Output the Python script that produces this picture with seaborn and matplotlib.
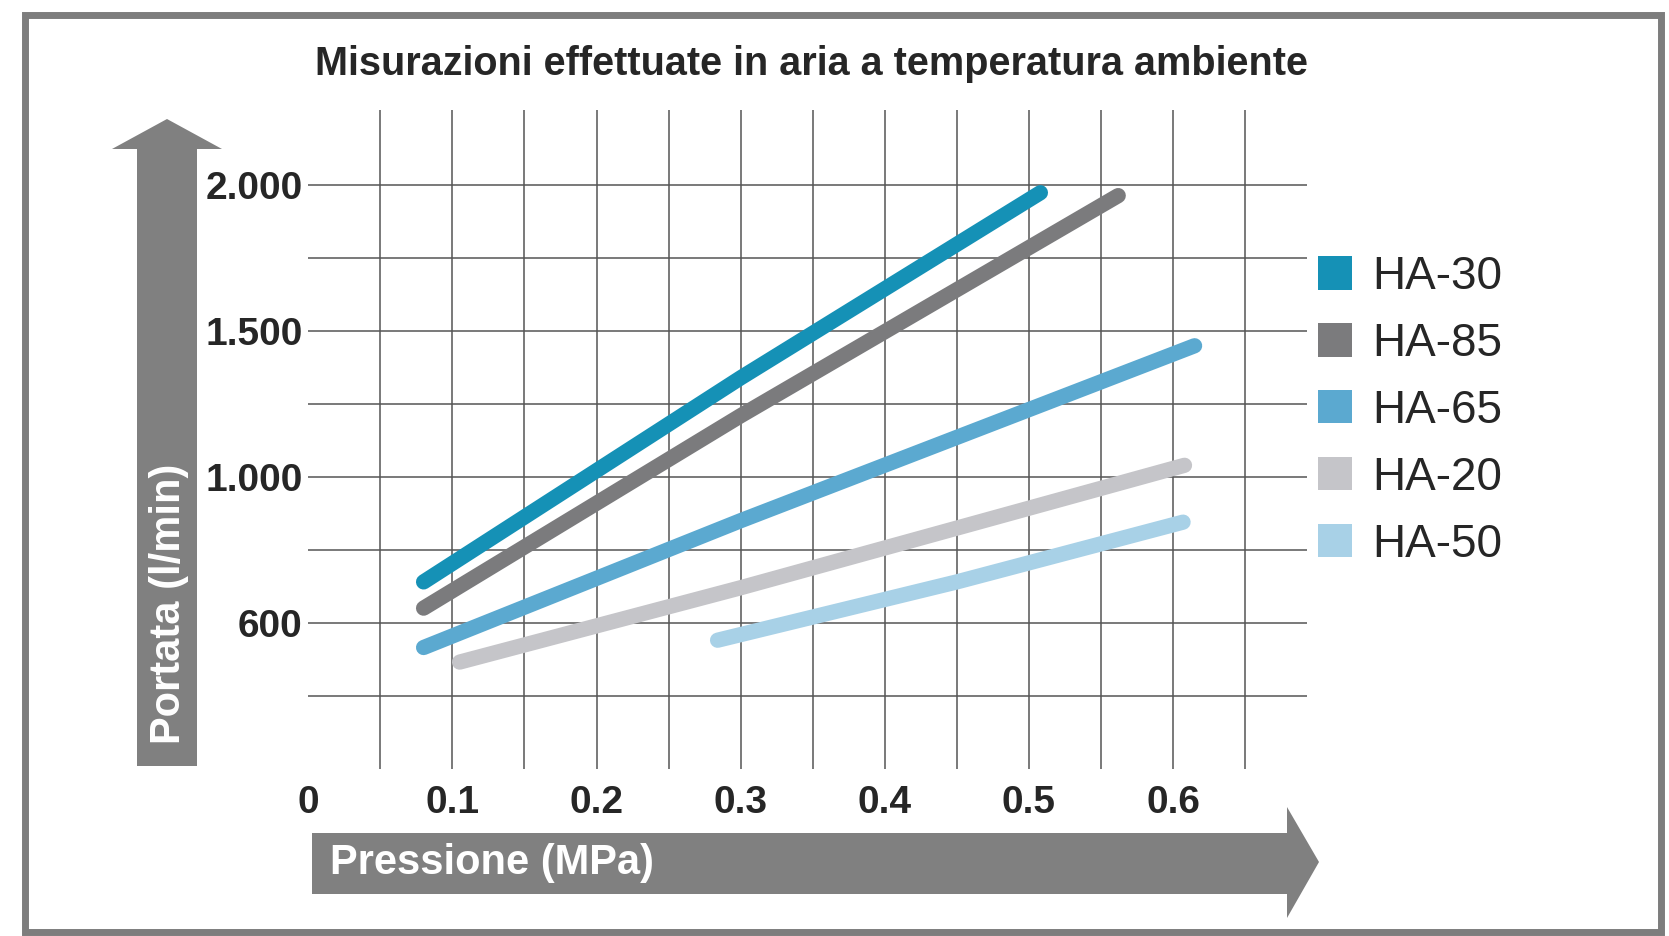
import matplotlib
matplotlib.use("Agg")
import matplotlib.pyplot as plt
import matplotlib.font_manager as fm
from matplotlib.patches import Patch, Polygon, Rectangle
import seaborn as sns
import pandas as pd

# dati
modelli = ["HA-30", "HA-85", "HA-65", "HA-20", "HA-50"]
colori = ["#1591b6", "#7b7b7d", "#5ba9d0", "#c5c5c9", "#a8d1e7"]

pressione_ha30 = [0.08, 0.30, 0.508]
portata_ha30 = [640, 1340, 1975]
pressione_ha85 = [0.08, 0.30, 0.562]
portata_ha85 = [550, 1210, 1965]
pressione_ha65 = [0.08, 0.30, 0.615]
portata_ha65 = [415, 850, 1450]
pressione_ha20 = [0.105, 0.30, 0.608]
portata_ha20 = [365, 620, 1040]
pressione_ha50 = [0.284, 0.45, 0.607]
portata_ha50 = [440, 640, 845]

x_ticks = [0, 0.1, 0.2, 0.3, 0.4, 0.5, 0.6]
x_labels = ["0", "0.1", "0.2", "0.3", "0.4", "0.5", "0.6"]
x_grid = [0.05, 0.1, 0.15, 0.2, 0.25, 0.3, 0.35, 0.4, 0.45, 0.5, 0.55, 0.6, 0.65]
y_ticks = [500, 1000, 1500, 2000]
y_labels = ["600", "1.000", "1.500", "2.000"]
y_grid = [250, 500, 750, 1000, 1250, 1500, 1750, 2000]

df = pd.concat([
    pd.DataFrame({"pressione": pressione_ha30, "portata": portata_ha30, "modello": "HA-30"}),
    pd.DataFrame({"pressione": pressione_ha85, "portata": portata_ha85, "modello": "HA-85"}),
    pd.DataFrame({"pressione": pressione_ha65, "portata": portata_ha65, "modello": "HA-65"}),
    pd.DataFrame({"pressione": pressione_ha20, "portata": portata_ha20, "modello": "HA-20"}),
    pd.DataFrame({"pressione": pressione_ha50, "portata": portata_ha50, "modello": "HA-50"}),
], ignore_index=True)

sns.set_style("white")
nomi = {f.name for f in fm.fontManager.ttflist}
stretto = "Liberation Sans Narrow" if "Liberation Sans Narrow" in nomi else "Liberation Sans"
plt.rcParams["font.family"] = ["Liberation Sans", "DejaVu Sans"]

W, H = 1669, 936
fig = plt.figure(figsize=(W / 100, H / 100), dpi=100)

# sfondo in coordinate pixel per cornice, frecce e testi
bg = fig.add_axes([0, 0, 1, 1], zorder=-1)
bg.set_xlim(0, W)
bg.set_ylim(H, 0)
bg.axis("off")
bg.add_patch(Rectangle((25, 15), 1636, 917, fill=False, edgecolor="#7d7d7d", linewidth=5))
grigio = "#808080"
bg.add_patch(Polygon([(137, 766), (197, 766), (197, 149), (222, 149), (167, 119),
                      (112, 149), (137, 149)], closed=True, color=grigio, lw=0))
bg.add_patch(Polygon([(312, 833), (1287, 833), (1287, 807), (1319, 862), (1287, 918),
                      (1287, 894), (312, 894)], closed=True, color=grigio, lw=0))
bg.text(811, 64, "Misurazioni effettuate in aria a temperatura ambiente", ha="center",
        va="center", fontsize=28.5, fontweight="bold", family=stretto)
bg.text(330, 863, "Pressione (MPa)", ha="left", va="center", color="white",
        fontsize=30, fontweight="bold", family=stretto)
bg.text(169, 604, "Portata (l/min)", ha="center", va="center", rotation=90, color="white",
        fontsize=30, fontweight="bold", family=stretto)

# grafico principale
ax = fig.add_axes([308.3 / W, (H - 768.5) / H, (1307 - 308.3) / W, (768.5 - 109.6) / H])
ax.set_facecolor("none")
sns.lineplot(data=df, x="pressione", y="portata", hue="modello", hue_order=modelli,
             palette=colori, linewidth=11, estimator=None, sort=False, legend=False, ax=ax)
for line in ax.lines:
    line.set_solid_capstyle("round")

ax.set_xlim(0, 0.693)
ax.set_ylim(0, 2260)
ax.xaxis.remove_overlapping_locs = False
ax.yaxis.remove_overlapping_locs = False
ax.set_xticks(x_ticks, labels=x_labels)
ax.set_xticks(x_grid, minor=True)
ax.set_yticks(y_ticks, labels=y_labels)
ax.set_yticks(y_grid, minor=True)
ax.grid(False)
ax.grid(True, which="minor", color="#555555", linewidth=1.1)
ax.set_axisbelow(True)
ax.tick_params(which="both", length=0)
ax.tick_params(axis="x", pad=12, labelsize=28)
ax.tick_params(axis="y", pad=4, labelsize=28)
for t in ax.get_xticklabels() + ax.get_yticklabels():
    t.set_fontfamily(stretto)
    t.set_fontweight("bold")
ax.set_xlabel("")
ax.set_ylabel("")
for s in ax.spines.values():
    s.set_visible(False)

handles = [Patch(facecolor=c, edgecolor="none") for c in colori]
ax.legend(handles, modelli, loc="upper left", bbox_to_anchor=(1318 / W, 1 - 255 / H),
          bbox_transform=fig.transFigure, frameon=False, fontsize=33, handlelength=0.74,
          handleheight=0.74, handletextpad=0.45, labelspacing=0.5, borderpad=0,
          borderaxespad=0)

fig.savefig("out.png", dpi=100)
